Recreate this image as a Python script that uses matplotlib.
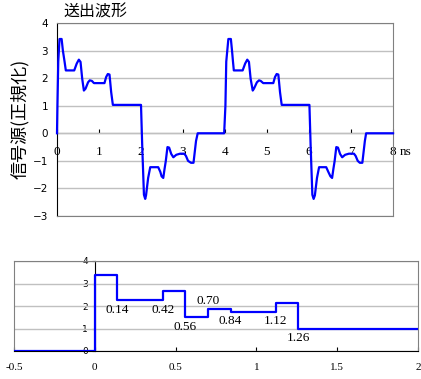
import numpy as np
import matplotlib
matplotlib.use('Agg')
import matplotlib.pyplot as plt

#==============================================================================
# data
#==============================================================================
# top: sent waveform (ns, normalised)
wave_t = [0.00, 0.01, 0.03, 0.06, 0.11, 0.14, 0.18, 0.21, 0.41, 0.47,
          0.52, 0.56, 0.60, 0.64, 0.68, 0.74, 0.78, 0.83, 0.88, 1.13,
          1.17, 1.21, 1.25, 1.29, 1.33, 2.00,
          2.03, 2.07, 2.10, 2.12, 2.17, 2.22, 2.41, 2.46, 2.49, 2.53,
          2.56, 2.59, 2.63, 2.67, 2.72, 2.77, 2.84, 2.93, 3.03, 3.07,
          3.12, 3.19, 3.25, 3.31, 3.35,
          3.98, 4.01, 4.03, 4.08, 4.14, 4.17, 4.19, 4.21, 4.42, 4.48,
          4.53, 4.57, 4.61, 4.66, 4.69, 4.76, 4.81, 4.85, 4.91, 5.15,
          5.19, 5.23, 5.27, 5.31, 5.35, 6.01,
          6.04, 6.08, 6.11, 6.14, 6.19, 6.24, 6.41, 6.46, 6.51, 6.55,
          6.58, 6.61, 6.65, 6.69, 6.74, 6.79, 6.86, 6.95, 7.07, 7.11,
          7.16, 7.21, 7.27, 7.33, 7.36, 8.00]
wave_v = [0.00, 1.00, 2.60, 3.42, 3.42, 3.00, 2.60, 2.28, 2.28, 2.53,
          2.67, 2.59, 1.98, 1.55, 1.62, 1.85, 1.92, 1.90, 1.82, 1.82,
          2.04, 2.15, 2.13, 1.49, 1.03, 1.03,
          -0.50, -2.23, -2.38, -2.25, -1.62, -1.23, -1.23, -1.40, -1.56, -1.62,
          -1.30, -1.01, -0.50, -0.52, -0.75, -0.87, -0.78, -0.74, -0.74, -0.82,
          -1.00, -1.07, -1.07, -0.28, 0.00,
          0.00, 1.00, 2.60, 3.42, 3.42, 2.95, 2.60, 2.28, 2.28, 2.53,
          2.67, 2.59, 1.98, 1.55, 1.62, 1.85, 1.92, 1.90, 1.82, 1.82,
          2.04, 2.15, 2.13, 1.49, 1.03, 1.03,
          -0.50, -2.23, -2.38, -2.25, -1.62, -1.23, -1.23, -1.40, -1.56, -1.62,
          -1.30, -1.01, -0.50, -0.52, -0.75, -0.87, -0.78, -0.74, -0.74, -0.82,
          -1.00, -1.07, -1.07, -0.28, 0.00, 0.00]

# bottom: staircase (step start times and levels)
step_t = [-0.5, 0.0, 0.14, 0.42, 0.56, 0.70, 0.84, 1.12, 1.26, 2.0]
step_v = [0.0, 3.4, 2.25, 2.65, 1.5, 1.87, 1.75, 2.15, 1.0, 1.0]
mark_t = [0.14, 0.42, 0.56, 0.70, 0.84, 1.12, 1.26]
mark_lbl = ['0.14', '0.42', '0.56', '0.70', '0.84', '1.12', '1.26']
mark_side = ['below', 'below', 'below', 'above', 'below', 'below', 'below']

top_xticks = [0, 1, 2, 3, 4, 5, 6, 7, 8]
top_yticks = [-3, -2, -1, 0, 1, 2, 3, 4]
bot_xticks = [-0.5, 0, 0.5, 1, 1.5, 2]
bot_xlbl = ['-0.5', '0', '0.5', '1', '1.5', '2']
bot_yticks = [0, 1, 2, 3, 4]

BLUE = '#0000ff'
FRAME = '#808080'
GRID = '#c0c0c0'
CJK = ['Noto Sans CJK JP', 'DejaVu Sans']
SERIF = 'Liberation Serif'

W, H = 421, 379
fig = plt.figure(figsize=(W/100, H/100), dpi=100)

#==============================================================================
# top plot
#==============================================================================
ax = fig.add_axes([57/W, 1-216/H, 336/W, 193/H])
ax.plot(wave_t, wave_v, color=BLUE, lw=1.6, zorder=5, clip_on=False)
ax.set_xlim(0, 8)
ax.set_ylim(-3, 4)
ax.set_yticks(top_yticks)
ax.set_xticks(top_xticks)
ax.grid(True, axis='y', color=GRID, lw=1)
ax.tick_params(axis='x', bottom=False, labelbottom=False)
ax.tick_params(axis='y', length=0, pad=6.5, labelsize=7.5)
for s in ['top', 'right', 'bottom']:
    ax.spines[s].set_color(FRAME)
ax.spines['left'].set_color('black')

# x axis drawn through y = 0
sec = ax.secondary_xaxis(3/7)
sec.set_xticks(top_xticks)
sec.set_xticklabels([str(v) for v in top_xticks], family=SERIF, fontsize=9.5)
sec.tick_params(direction='in', length=3, pad=9)
sec.spines['bottom'].set_color('black')
ax.annotate('ns', xy=(8, 0), xytext=(5, -13.5), textcoords='offset points',
            ha='left', va='center', fontsize=9.5, family=SERIF)

fig.text(95/W, 1-12.5/H, '送出波形', ha='center', va='center',
         fontsize=11.5, family=CJK)
fig.text(20/W, 1-119/H, '信号源(正規化)', ha='center', va='center',
         rotation=90, fontsize=13, family=CJK)

#==============================================================================
# bottom plot
#==============================================================================
ax2 = fig.add_axes([14/W, 1-351/H, 404/W, 90/H])
ax2.step(step_t, step_v, where='post', color=BLUE, lw=1.6, zorder=5)
ax2.set_xlim(-0.5, 2)
ax2.set_ylim(0, 4)
ax2.set_yticks(bot_yticks)
ax2.grid(True, axis='y', color=GRID, lw=1)
ax2.tick_params(axis='y', left=False, labelleft=False)
ax2.set_xticks(bot_xticks)
ax2.set_xticklabels(bot_xlbl, family=SERIF, fontsize=8)
ax2.tick_params(axis='x', direction='in', length=3, pad=8.5)
for s in ['top', 'right', 'left']:
    ax2.spines[s].set_color(FRAME)
ax2.spines['bottom'].set_color('black')

# y axis drawn through x = 0
sec2 = ax2.secondary_yaxis(0.2)
sec2.set_yticks(bot_yticks)
sec2.set_yticklabels([str(v) for v in bot_yticks], fontsize=6.5)
sec2.tick_params(direction='out', length=2, pad=3)
sec2.spines['left'].set_color('black')

for t, lbl, side in zip(mark_t, mark_lbl, mark_side):
    i = step_t.index(t)
    lo = min(step_v[i-1], step_v[i])
    hi = max(step_v[i-1], step_v[i])
    if side == 'below':
        ax2.annotate(lbl, xy=(t, lo), xytext=(0, -7), textcoords='offset points',
                     ha='center', va='center', fontsize=9.5, family=SERIF)
    else:
        ax2.annotate(lbl, xy=(t, hi), xytext=(0, 6), textcoords='offset points',
                     ha='center', va='center', fontsize=9.5, family=SERIF)

plt.savefig('out.png', dpi=100)
